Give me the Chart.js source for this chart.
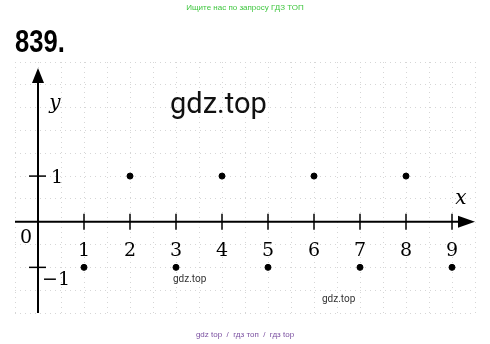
<!DOCTYPE html>
<html>
<head>
<meta charset="utf-8">
<script src="https://cdn.jsdelivr.net/npm/chart.js@4/dist/chart.umd.min.js"></script>
<style>
  html, body { margin: 0; padding: 0; background: #fff; }
  #wrap { position: relative; width: 490px; height: 344px; overflow: hidden; }
  #graph { position: absolute; left: 0; top: 0; }
  .txt { position: absolute; white-space: nowrap; line-height: 1; }
  .top-note { top: 3px; left: 0; width: 490px; text-align: center; font: 8px "Liberation Sans", sans-serif; color: #3ec63e; }
  .bottom-note { top: 330px; left: 0; width: 490px; text-align: center; font: 8px "Liberation Sans", sans-serif; color: #7a4fa0; }
  .num { left: 15px; top: 23px; font: bold 32px "Liberation Sans", sans-serif; color: #000; transform: scaleX(0.8); transform-origin: left top; }
  .wm-big { left: 170px; top: 86px; font: 29px Roboto, sans-serif; color: #111; }
  .wm-small { font: 10px Roboto, sans-serif; color: #333; }
</style>
</head>
<body>
<div id="wrap">
  <canvas id="graph" width="490" height="344"></canvas>
  <div class="txt top-note">Ищите нас по запросу ГДЗ ТОП</div>
  <div class="txt num">839.</div>
  <div class="txt wm-big">gdz.top</div>
  <div class="txt wm-small" style="left:173px;top:273px;">gdz.top</div>
  <div class="txt wm-small" style="left:322px;top:293px;">gdz.top</div>
  <div class="txt bottom-note">gdz top&nbsp; /&nbsp; гдз топ&nbsp; /&nbsp; гдз top</div>
</div>
<script>
const ctxGraph = document.getElementById('graph');

// sequence points
let xValues = [1, 2, 3, 4, 5, 6, 7, 8, 9];
let yValues = [-1, 1, -1, 1, -1, 1, -1, 1, -1];

// tick labels
let xTickValues = [1, 2, 3, 4, 5, 6, 7, 8, 9];
let xTickLabels = ['1', '2', '3', '4', '5', '6', '7', '8', '9'];
let yTickValues = [1, -1];
let yTickLabels = ['1', '\u22121'];

let points = xValues.map((x, i) => ({ x: x, y: yValues[i] }));

// draws the axes with arrows, tick marks and labels on top of the grid
const axesPlugin = {
  id: 'axesPlugin',
  beforeDatasetsDraw(chart) {
    const ctx = chart.ctx;
    const xs = chart.scales.x;
    const ys = chart.scales.y;
    const ox = xs.getPixelForValue(0);
    const oy = ys.getPixelForValue(0);
    ctx.save();
    ctx.strokeStyle = '#000';
    ctx.fillStyle = '#000';

    // x axis
    ctx.lineWidth = 2;
    ctx.beginPath();
    ctx.moveTo(xs.left, oy);
    ctx.lineTo(xs.right - 14, oy);
    ctx.stroke();
    ctx.beginPath();
    ctx.moveTo(xs.right, oy);
    ctx.lineTo(xs.right - 17, oy - 6);
    ctx.lineTo(xs.right - 17, oy + 6);
    ctx.closePath();
    ctx.fill();

    // y axis
    ctx.beginPath();
    ctx.moveTo(ox, ys.bottom);
    ctx.lineTo(ox, ys.top + 18);
    ctx.stroke();
    ctx.beginPath();
    ctx.moveTo(ox, ys.top + 6);
    ctx.lineTo(ox - 6, ys.top + 21);
    ctx.lineTo(ox + 6, ys.top + 21);
    ctx.closePath();
    ctx.fill();

    // tick marks
    ctx.lineWidth = 1.5;
    xTickValues.forEach(v => {
      const px = xs.getPixelForValue(v);
      ctx.beginPath();
      ctx.moveTo(px, oy - 8);
      ctx.lineTo(px, oy + 8);
      ctx.stroke();
    });
    yTickValues.forEach(v => {
      const py = ys.getPixelForValue(v);
      ctx.beginPath();
      ctx.moveTo(ox - 9, py);
      ctx.lineTo(ox + 8, py);
      ctx.stroke();
    });

    // tick labels
    ctx.font = '19px "DejaVu Serif", serif';
    ctx.textAlign = 'center';
    ctx.textBaseline = 'middle';
    xTickValues.forEach((v, i) => {
      ctx.fillText(xTickLabels[i], xs.getPixelForValue(v), oy + 29);
    });
    ctx.textAlign = 'left';
    yTickValues.forEach((v, i) => {
      const py = ys.getPixelForValue(v);
      if (v > 0) {
        ctx.fillText(yTickLabels[i], ox + 13, py + 2);
      } else {
        ctx.fillText(yTickLabels[i], ox + 4, py + 13);
      }
    });
    ctx.textAlign = 'center';
    ctx.fillText('0', ox - 12, oy + 16);

    // axis names
    ctx.font = 'italic 20px "DejaVu Serif", serif';
    ctx.fillText('x', xs.right - 14, oy - 23);
    ctx.fillText('y', ox + 17, ys.getPixelForValue(2.58));
    ctx.restore();
  }
};

const graph = new Chart(ctxGraph, {
  type: 'scatter',
  data: {
    datasets: [{
      data: points,
      backgroundColor: '#000',
      borderColor: '#000',
      pointRadius: 3,
      pointHoverRadius: 3
    }]
  },
  options: {
    responsive: false,
    animation: false,
    layout: {
      padding: { left: 15, right: 15, top: 62, bottom: 31 }
    },
    plugins: {
      legend: { display: false },
      tooltip: { enabled: false }
    },
    scales: {
      x: {
        type: 'linear',
        min: -0.5,
        max: 9.5,
        ticks: { display: false, stepSize: 0.5 },
        grid: { color: '#d6d6d6', lineWidth: 1, drawTicks: false },
        border: { display: false, dash: [1, 4] }
      },
      y: {
        type: 'linear',
        min: -2,
        max: 3.5,
        ticks: { display: false, stepSize: 0.5 },
        grid: { color: '#d6d6d6', lineWidth: 1, drawTicks: false },
        border: { display: false, dash: [1, 4] }
      }
    }
  },
  plugins: [axesPlugin]
});
</script>
</body>
</html>
